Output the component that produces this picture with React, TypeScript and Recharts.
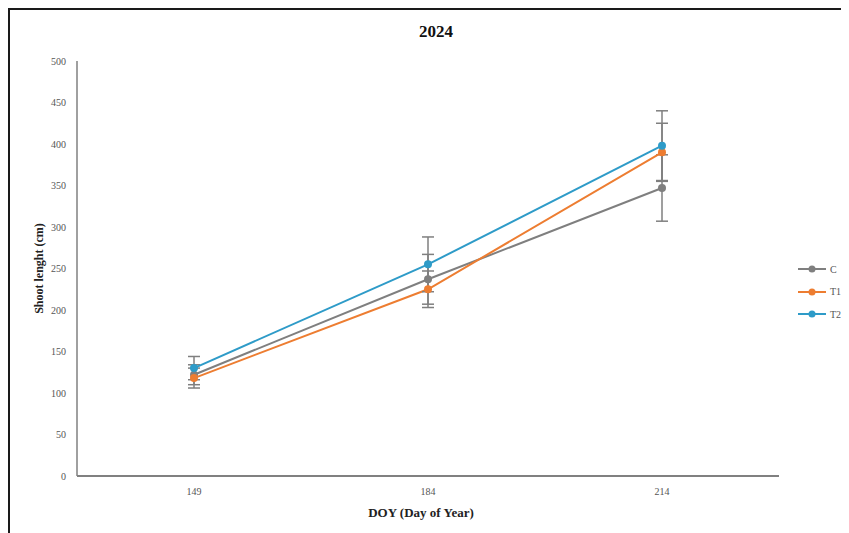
import { LineChart, Line, XAxis, YAxis, ErrorBar, Label } from "recharts";

const days = ["149", "184", "214"];
const cValues = [122, 237, 347];
const t1Values = [118, 225, 390];
const t2Values = [130, 255, 398];
const cErr = [12, 30, 40];
const t1Err = [12, 22, 35];
const t2Err = [14, 33, 42];
const yTicks = [0, 50, 100, 150, 200, 250, 300, 350, 400, 450, 500];

const series = [
  { key: "C", color: "#7f7f7f" },
  { key: "T1", color: "#ed7d31" },
  { key: "T2", color: "#2e9bc8" },
];

const data = days.map((d, i) => ({
  day: d,
  C: cValues[i],
  T1: t1Values[i],
  T2: t2Values[i],
  cErr: cErr[i],
  t1Err: t1Err[i],
  t2Err: t2Err[i],
}));

const errKey: Record<string, string> = { C: "cErr", T1: "t1Err", T2: "t2Err" };
const font = "'Liberation Serif', 'Times New Roman', serif";

export default function App() {
  return (
    <div
      style={{
        position: "relative",
        width: 839,
        height: 523,
        borderTop: "2px solid #1a1a1a",
        borderLeft: "2px solid #1a1a1a",
        fontFamily: font,
        background: "#fff",
      }}
    >
      <div
        style={{
          position: "absolute",
          left: 0,
          width: 852,
          top: 12,
          textAlign: "center",
          fontWeight: "bold",
          fontSize: 17,
          color: "#111",
        }}
      >
        2024
      </div>
      <LineChart width={839} height={523} data={data} margin={{ top: 51, right: 70, left: 0, bottom: 0 }}>
        <XAxis
          dataKey="day"
          height={57}
          padding={{ left: 117, right: 117 }}
          axisLine={{ stroke: "#808080", strokeWidth: 2 }}
          tickLine={false}
          tickSize={0}
          tickMargin={12}
          tick={{ fontSize: 10, fill: "#555", fontFamily: font }}
        >
          <Label
            content={({ viewBox }: any) => (
              <text
                x={viewBox.x + viewBox.width / 2 - 7}
                y={viewBox.y + 41}
                textAnchor="middle"
                fontFamily={font}
                fontWeight="bold"
                fontSize={13}
                fill="#222"
              >
                DOY (Day of Year)
              </text>
            )}
          />
        </XAxis>
        <YAxis
          width={67}
          domain={[0, 500]}
          ticks={yTicks}
          interval={0}
          axisLine={{ stroke: "#808080", strokeWidth: 1.5 }}
          tickLine={false}
          tickSize={0}
          tickMargin={11}
          tick={{ fontSize: 10, fill: "#555", fontFamily: font }}
        >
          <Label
            content={({ viewBox }: any) => {
              const cx = 29;
              const cy = viewBox.y + viewBox.height / 2;
              return (
                <text
                  x={cx}
                  y={cy}
                  transform={`rotate(-90 ${cx} ${cy})`}
                  textAnchor="middle"
                  dominantBaseline="central"
                  fontFamily={font}
                  fontWeight="bold"
                  fontSize={12}
                  fill="#222"
                >
                  Shoot lenght (cm)
                </text>
              );
            }}
          />
        </YAxis>
        {series.map((s) => (
          <Line
            key={s.key}
            dataKey={s.key}
            stroke={s.color}
            strokeWidth={2}
            dot={{ r: 4, fill: s.color, stroke: s.color, strokeWidth: 0 }}
            activeDot={false}
            isAnimationActive={false}
          >
            <ErrorBar dataKey={errKey[s.key]} width={6} stroke="#7f7f7f" strokeWidth={1.5} direction="y" />
          </Line>
        ))}
      </LineChart>
      <div style={{ position: "absolute", left: 788, top: 248 }}>
        {series.map((s) => (
          <div key={s.key} style={{ display: "flex", alignItems: "center", height: 22.5 }}>
            <svg width={30} height={10}>
              <line x1={0} y1={5} x2={28} y2={5} stroke={s.color} strokeWidth={2} />
              <circle cx={14} cy={5} r={3.5} fill={s.color} />
            </svg>
            <span style={{ fontSize: 10, color: "#555", marginLeft: 2 }}>{s.key}</span>
          </div>
        ))}
      </div>
    </div>
  );
}
